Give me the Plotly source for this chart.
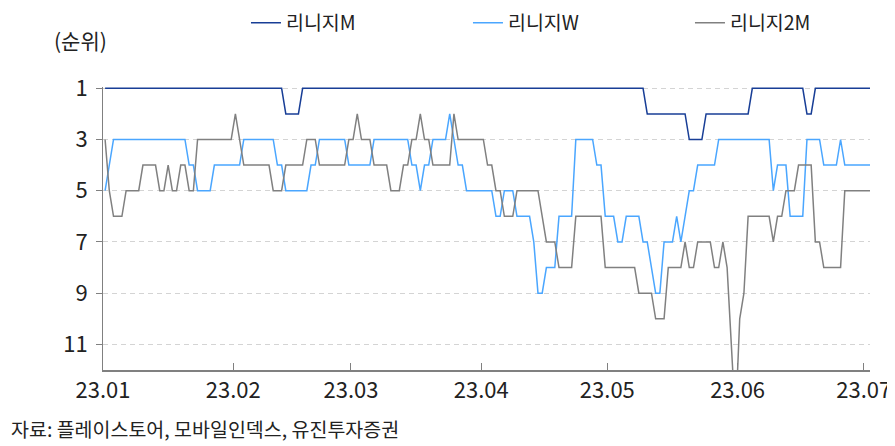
import pandas as pd
import plotly.graph_objects as go

# Daily rank data (2023-01-01 .. 2023-07-02), one value per day
dates = pd.date_range("2023-01-01 12:00", periods=183, freq="D")

lineage_m = [
    1, 1, 1, 1, 1, 1, 1, 1, 1, 1, 1, 1, 1, 1, 1, 1, 1, 1, 1, 1, 1, 1, 1, 1, 1, 1, 1, 1, 1, 1, 1,
    1, 1, 1, 1, 1, 1, 1, 1, 1, 1, 1, 1, 2, 2, 2, 2, 1, 1, 1, 1, 1, 1, 1, 1, 1, 1, 1, 1,
    1, 1, 1, 1, 1, 1, 1, 1, 1, 1, 1, 1, 1, 1, 1, 1, 1, 1, 1, 1, 1, 1, 1, 1, 1, 1, 1, 1, 1, 1, 1,
    1, 1, 1, 1, 1, 1, 1, 1, 1, 1, 1, 1, 1, 1, 1, 1, 1, 1, 1, 1, 1, 1, 1, 1, 1, 1, 1, 1, 1, 1,
    1, 1, 1, 1, 1, 1, 1, 1, 1, 2, 2, 2, 2, 2, 2, 2, 2, 2, 2, 3, 3, 3, 3, 2, 2, 2, 2, 2, 2, 2, 2,
    2, 2, 2, 1, 1, 1, 1, 1, 1, 1, 1, 1, 1, 1, 1, 1, 2, 2, 1, 1, 1, 1, 1, 1, 1, 1, 1, 1, 1, 1,
    1, 1,
]

lineage_w = [
    5, 4, 3, 3, 3, 3, 3, 3, 3, 3, 3, 3, 3, 3, 3, 3, 3, 3, 3, 3, 4, 4, 5, 5, 5, 5, 4, 4, 4, 4, 4,
    4, 4, 3, 3, 3, 3, 3, 3, 3, 3, 4, 4, 5, 5, 5, 5, 5, 5, 4, 4, 3, 3, 3, 3, 3, 3, 3, 4,
    4, 4, 4, 4, 4, 3, 3, 3, 3, 3, 3, 3, 3, 3, 4, 4, 5, 4, 4, 3, 3, 3, 3, 2, 3, 4, 4, 5, 5, 5, 5,
    5, 5, 5, 6, 6, 5, 5, 5, 6, 6, 6, 6, 7, 9, 9, 8, 8, 8, 6, 6, 6, 6, 3, 3, 3, 3, 3, 4, 4, 6,
    6, 6, 7, 7, 6, 6, 6, 6, 7, 7, 8, 9, 9, 7, 7, 7, 6, 7, 6, 5, 5, 4, 4, 4, 4, 4, 3, 3, 3, 3, 3,
    3, 3, 3, 3, 3, 3, 3, 3, 5, 4, 4, 4, 6, 6, 6, 6, 3, 3, 3, 3, 4, 4, 4, 4, 3, 4, 4, 4, 4, 4,
    4, 4,
]

lineage_2m = [
    3, 5, 6, 6, 6, 5, 5, 5, 5, 4, 4, 4, 4, 5, 5, 4, 5, 5, 4, 4, 5, 5, 3, 3, 3, 3, 3, 3, 3, 3, 3,
    2, 3, 4, 4, 4, 4, 4, 4, 4, 5, 5, 5, 4, 4, 4, 4, 4, 3, 3, 3, 4, 4, 4, 4, 4, 4, 4, 3,
    3, 2, 3, 3, 3, 4, 4, 4, 4, 5, 5, 5, 4, 4, 3, 3, 2, 3, 3, 4, 4, 4, 4, 4, 2, 3, 3, 3, 3, 3, 3,
    3, 4, 4, 5, 5, 6, 6, 6, 5, 5, 5, 5, 5, 5, 6, 7, 7, 7, 8, 8, 8, 8, 6, 6, 6, 6, 6, 6, 6, 8,
    8, 8, 8, 8, 8, 8, 8, 9, 9, 9, 9, 10, 10, 10, 8, 8, 8, 8, 7, 8, 8, 7, 7, 7, 7, 8, 8, 7, 8, 11, 14,
    10, 9, 6, 6, 6, 6, 6, 6, 7, 6, 6, 5, 5, 5, 4, 4, 4, 4, 7, 7, 8, 8, 8, 8, 8, 5, 5, 5, 5, 5,
    5, 5,
]

series_names = ["리니지M", "리니지W", "리니지2M"]
series_colors = ["#183e96", "#4aa6ff", "#808080"]

tick_dates = ["2023-01-01", "2023-02-01", "2023-03-01", "2023-04-01",
              "2023-05-01", "2023-06-01", "2023-07-01"]
tick_labels = ["23.01", "23.02", "23.03", "23.04", "23.05", "23.06", "23.07"]
rank_ticks = [1, 3, 5, 7, 9, 11]

NUM_FONT = "Noto Sans CJK KR, sans-serif"
KR_FONT = "Noto Sans CJK KR, sans-serif"

fig = go.Figure()
for name, vals, color in zip(series_names, [lineage_m, lineage_w, lineage_2m], series_colors):
    fig.add_trace(go.Scatter(
        x=dates, y=vals, mode="lines", name=name,
        line=dict(color=color, width=1.5),
    ))

# the page body adds an 8px offset, so the figure is 8px smaller than the window
fig.update_layout(
    template="none",
    width=887, height=438,
    margin=dict(l=95, r=25, t=79, b=76, autoexpand=False),
    paper_bgcolor="white", plot_bgcolor="white",
    showlegend=True,
    legend=dict(
        orientation="h", x=0.1864, xanchor="left", y=1.226, yanchor="middle",
        font=dict(size=19.5, family=KR_FONT, color="#222222"),
        entrywidth=177, entrywidthmode="pixels",
        bgcolor="rgba(0,0,0,0)", borderwidth=0,
    ),
    xaxis=dict(
        type="date", automargin=False,
        range=["2023-01-01", "2023-07-02 12:00"],
        tickvals=tick_dates, ticktext=tick_labels,
        ticks="inside", ticklen=7, tickcolor="#808080", tickwidth=1,
        showline=True, linecolor="#808080", linewidth=2,
        showgrid=False, zeroline=False, ticklabeloverflow="allow",
        tickfont=dict(size=22, family=NUM_FONT, color="#222222"),
    ),
    yaxis=dict(
        automargin=False,
        range=[12, 0.95],
        tickvals=rank_ticks,
        ticks="outside", ticklen=6, tickcolor="#808080", tickwidth=1,
        showline=True, linecolor="#808080", linewidth=1,
        showgrid=True, gridcolor="#d4d4d4", gridwidth=1, griddash="5px,4px",
        zeroline=False, ticklabelstandoff=4,
        tickfont=dict(size=22, family=NUM_FONT, color="#222222"),
    ),
    annotations=[
        dict(text="(순위)", xref="paper", yref="paper", x=-0.0665, y=1.166,
             xanchor="left", yanchor="middle", showarrow=False,
             font=dict(size=21, family=KR_FONT, color="#222222")),
        dict(text="자료: 플레이스토어, 모바일인덱스, 유진투자증권", xref="paper", yref="paper",
             x=-0.1222, y=-0.205, xanchor="left", yanchor="middle", showarrow=False,
             font=dict(size=19.5, family=KR_FONT, color="#222222")),
    ],
)

fig.write_html("out.html")
